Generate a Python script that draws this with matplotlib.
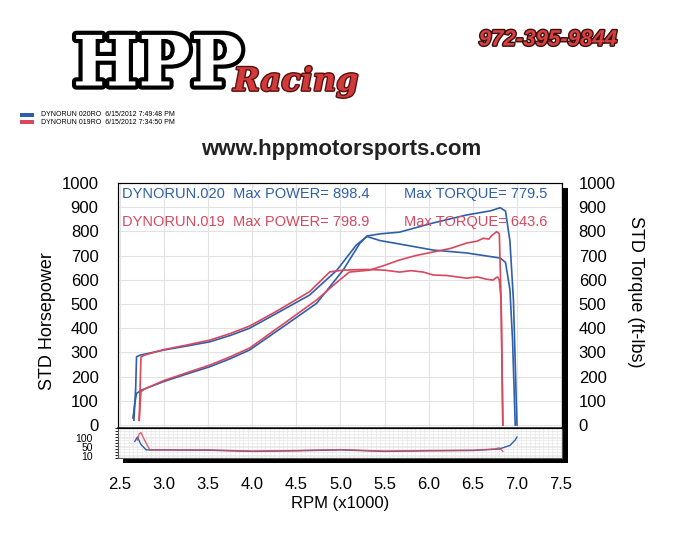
import matplotlib
matplotlib.use("Agg")
import matplotlib.pyplot as plt
import matplotlib.patheffects as pe
from matplotlib.patches import Rectangle
from matplotlib.ticker import MultipleLocator

plt.rcParams['font.family'] = ['Liberation Sans', 'DejaVu Sans']

# Datos (RPM x1000)
rpm_tq_020 = [2.66, 2.68, 2.69, 2.73, 3.0, 3.25, 3.52, 3.75, 3.97, 4.28, 4.65, 4.96, 5.18, 5.30, 5.45, 5.67, 6.05, 6.43, 6.81, 6.87, 6.92, 6.95, 6.98]
tq_020 = [20, 150, 282, 289, 310, 326, 344, 370, 400, 462, 537, 640, 744, 779, 762, 748, 723, 711, 690, 672, 560, 350, 0]

rpm_hp_020 = [2.65, 2.67, 2.69, 2.75, 3.0, 3.25, 3.52, 3.75, 3.97, 4.35, 4.73, 5.03, 5.22, 5.30, 5.45, 5.67, 6.05, 6.43, 6.70, 6.81, 6.87, 6.92, 6.96, 7.0]
hp_020 = [29, 90, 131, 145, 180, 210, 241, 274, 310, 406, 503, 640, 751, 781, 790, 797, 835, 868, 885, 898, 884, 760, 516, 0]

rpm_tq_019 = [2.72, 2.73, 2.74, 2.78, 3.0, 3.25, 3.52, 3.75, 3.97, 4.28, 4.65, 4.88, 5.03, 5.30, 5.50, 5.67, 5.80, 5.94, 6.05, 6.20, 6.43, 6.55, 6.65, 6.73, 6.76, 6.78, 6.80, 6.82, 6.84]
tq_019 = [20, 150, 281, 289, 312, 330, 351, 378, 409, 471, 551, 633, 640, 643, 640, 632, 638, 632, 620, 618, 607, 612, 603, 599, 608, 612, 600, 516, 0]

rpm_hp_019 = [2.72, 2.73, 2.74, 2.78, 3.0, 3.25, 3.52, 3.75, 3.97, 4.35, 4.73, 4.95, 5.10, 5.33, 5.50, 5.67, 5.85, 6.05, 6.25, 6.43, 6.55, 6.62, 6.68, 6.72, 6.77, 6.80, 6.82, 6.84]
hp_019 = [20, 80, 138, 149, 184, 215, 248, 282, 318, 417, 517, 587, 632, 640, 660, 682, 700, 715, 730, 752, 760, 772, 768, 785, 799, 790, 516, 0]

# Panel inferior
rpm_low_020 = [2.67, 2.70, 2.74, 2.80, 3.0, 3.5, 4.0, 4.5, 5.0, 5.2, 5.5, 6.0, 6.5, 6.8, 6.92, 6.98, 7.0]
low_020 = [55, 70, 45, 27, 27, 26, 22, 24, 27, 25, 22, 24, 25, 30, 42, 60, 70]
rpm_low_019 = [2.70, 2.72, 2.74, 2.78, 2.84, 3.0, 3.5, 4.0, 4.5, 5.0, 5.2, 5.5, 6.0, 6.5, 6.75, 6.80, 6.84]
low_019 = [60, 80, 85, 60, 27, 27, 27, 23, 25, 28, 26, 23, 25, 26, 30, 34, 22]

azul = '#2f5fa8'
rojo = '#d8485e'

fig = plt.figure(figsize=(7.0, 5.37), dpi=100)
fig.patch.set_facecolor('white')

W, H = 700.0, 537.0
def fx(px):
    return px / W
def fy(py):
    return 1 - py / H

# sombra negra del marco
fig.patches.append(Rectangle((fx(123), fy(463)), fx(568) - fx(123), fy(188) - fy(463),
                             transform=fig.transFigure, facecolor='black', zorder=0))

ax = fig.add_axes([fx(118), fy(428), fx(562) - fx(118), fy(183) - fy(428)])
ax2 = fig.add_axes([fx(118), fy(458), fx(562) - fx(118), fy(428) - fy(458)])
for a in (ax, ax2):
    a.set_facecolor('white')
    a.set_zorder(2)
    for s in a.spines.values():
        s.set_color('#555555')
        s.set_linewidth(0.8)

ax.plot(rpm_tq_020, tq_020, color=azul, lw=1.2)
ax.plot(rpm_hp_020, hp_020, color=azul, lw=1.2)
ax.plot(rpm_tq_019, tq_019, color=rojo, lw=1.2)
ax.plot(rpm_hp_019, hp_019, color=rojo, lw=1.2)

ax.set_xlim(2.48, 7.51)
ax.set_ylim(-12, 1000)
ax.xaxis.set_major_locator(MultipleLocator(0.5))
ax.yaxis.set_major_locator(MultipleLocator(100))
ax.grid(True, which='major', color='#e2e2e2', lw=0.8)
ax.tick_params(axis='x', which='both', length=0, labelbottom=False)
ax.set_yticks(range(0, 1001, 100))
ax.tick_params(axis='y', length=0, labelsize=12, pad=14)
ax.spines['bottom'].set_color('#222222')
ax.spines['bottom'].set_linewidth(1.2)

axr = ax.twinx()
axr.set_ylim(-12, 1000)
axr.set_yticks(range(0, 1001, 100))
axr.tick_params(axis='y', length=0, labelsize=12, pad=12)
axr.set_ylabel('STD Torque (ft-lbs)', rotation=270, fontsize=13, va='bottom')
axr.yaxis.set_label_coords(1.147, 0.555)
ax.set_ylabel('STD Horsepower', fontsize=13)
ax.yaxis.set_label_coords(-0.14, 0.437)

ax.text(0.008, 0.985, 'DYNORUN.020  Max POWER= 898.4', color=azul, fontsize=10.5,
        transform=ax.transAxes, va='top')
ax.text(0.645, 0.985, 'Max TORQUE= 779.5', color=azul, fontsize=10.5,
        transform=ax.transAxes, va='top')
ax.text(0.008, 0.87, 'DYNORUN.019  Max POWER= 798.9', color=rojo, fontsize=10.5,
        transform=ax.transAxes, va='top')
ax.text(0.645, 0.87, 'Max TORQUE= 643.6', color=rojo, fontsize=10.5,
        transform=ax.transAxes, va='top')

ax2.plot(rpm_low_020, low_020, color=azul, lw=1.0)
ax2.plot(rpm_low_019, low_019, color=rojo, lw=1.0, alpha=0.85)
ax2.set_xlim(2.48, 7.51)
ax2.set_ylim(0, 100)
ax2.xaxis.set_major_locator(MultipleLocator(0.5))
ax2.xaxis.set_minor_locator(MultipleLocator(0.05))
ax2.yaxis.set_minor_locator(MultipleLocator(10))
ax2.grid(True, which='both', color='#e6e6e6', lw=0.5)
ax2.set_yticks([8, 38, 68])
ax2.set_yticklabels(['10', '50', '100'], fontsize=7.5)
ax2.tick_params(axis='y', length=0, pad=18)
ax2.set_xticks([2.5, 3.0, 3.5, 4.0, 4.5, 5.0, 5.5, 6.0, 6.5, 7.0, 7.5])
ax2.set_xticklabels(['2.5', '3.0', '3.5', '4.0', '4.5', '5.0', '5.5', '6.0', '6.5', '7.0', '7.5'])
ax2.tick_params(axis='x', length=0, labelsize=12, pad=14)
ax2.set_xlabel('RPM (x1000)', fontsize=12, labelpad=0)
ax2.xaxis.set_label_coords(0.5, -1.28)

# encabezado
fig.text(fx(158), fy(66), 'HPP', fontsize=50, fontweight='heavy', color='white',
         ha='center', va='center', family='DejaVu Serif',
         path_effects=[pe.withStroke(linewidth=6, foreground='black')])
fig.text(fx(296), fy(82), 'Racing', fontsize=23, fontstyle='italic', fontweight='bold',
         color='#d23a3a', ha='center', va='center', family='DejaVu Serif',
         path_effects=[pe.withStroke(linewidth=2, foreground='#551111')])
fig.text(fx(548), fy(40), '972-395-9844', fontsize=16, fontstyle='italic', fontweight='bold',
         color='#d84040', ha='center', va='center',
         path_effects=[pe.withStroke(linewidth=2, foreground='#3a1010')])

fig.patches.append(Rectangle((fx(20), fy(117)), fx(14), 4 / H, transform=fig.transFigure,
                             facecolor=azul, edgecolor='none'))
fig.patches.append(Rectangle((fx(20), fy(124)), fx(14), 4 / H, transform=fig.transFigure,
                             facecolor=rojo, edgecolor='none'))
fig.text(fx(41), fy(115), 'DYNORUN 020RO  6/15/2012 7:49:48 PM', fontsize=5, va='center')
fig.text(fx(41), fy(122), 'DYNORUN 019RO  6/15/2012 7:34:50 PM', fontsize=5, va='center')

fig.text(fx(341), fy(149), 'www.hppmotorsports.com', fontsize=16, fontweight='bold',
         color='#222222', ha='center', va='center')

fig.savefig('out.png', dpi=100, facecolor='white')
